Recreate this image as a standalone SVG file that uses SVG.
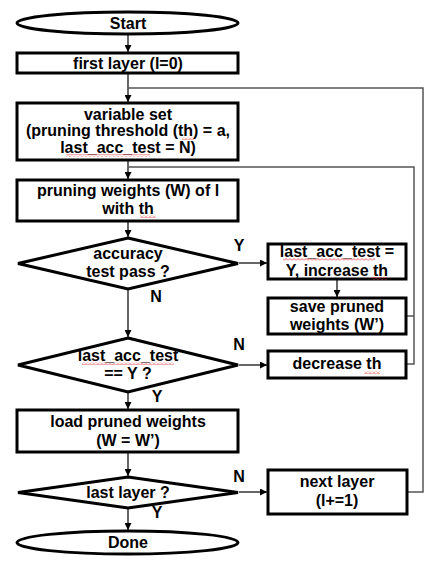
<svg xmlns="http://www.w3.org/2000/svg" width="436" height="564" viewBox="0 0 436 564">
<style>
.n{fill:#fff;stroke:#000;stroke-width:3}
.t{font-family:"Liberation Sans",Arial,sans-serif;font-weight:bold;font-size:16px;fill:#000;text-anchor:middle}
.c{fill:none;stroke:#000;stroke-width:1.2}
.g{fill:none;stroke:#555;stroke-width:1.5}
.sq{fill:url(#sq)}
</style>
<defs>
<marker id="a" viewBox="0 0 10 10" refX="10" refY="5" markerWidth="7" markerHeight="7" orient="auto" markerUnits="userSpaceOnUse">
<path d="M0,0 L10,5 L0,10 z" fill="#000"/>
</marker>
<pattern id="sq" width="4" height="3" patternUnits="userSpaceOnUse">
<path d="M0,2.5 L2,0.5 L4,2.5" fill="none" stroke="#e03030" stroke-width="0.8"/>
</pattern>
</defs>
<rect width="436" height="564" fill="#fff"/>
<g id="connectors">
<path class="c" d="M128,35 V52" marker-end="url(#a)"/>
<path class="c" d="M128,74 V102" marker-end="url(#a)"/>
<path class="c" d="M128,161 V179" marker-end="url(#a)"/>
<path class="c" d="M128,222 V237" marker-end="url(#a)"/>
<path class="c" d="M128,290 V337" marker-end="url(#a)"/>
<path class="c" d="M128,393 V409" marker-end="url(#a)"/>
<path class="c" d="M128,453 V476" marker-end="url(#a)"/>
<path class="c" d="M128,509 V530" marker-end="url(#a)"/>
<path class="c" d="M239,263 H267" marker-end="url(#a)"/>
<path class="c" d="M337,280 V297" marker-end="url(#a)"/>
<path class="c" d="M239,365 H267" marker-end="url(#a)"/>
<path class="c" d="M239,492 H267" marker-end="url(#a)"/>
<path class="g" d="M407,316 H414 M407,364 H414 V167 H128"/>
<path class="g" d="M408,492 H423 V88 H128"/>
</g>
<g id="start">
<ellipse class="n" cx="127.5" cy="23" rx="110.5" ry="11"/>
<text class="t" x="128" y="29">Start</text>
</g>
<g id="first-layer">
<rect class="n" x="17" y="53" width="221" height="20"/>
<text class="t" x="128" y="69">first layer (l=0)</text>
</g>
<g id="variable-set">
<rect class="n" x="17" y="103" width="221" height="57"/>
<text class="t" x="128" y="120">variable set</text>
<text class="t" x="128" y="136">(pruning threshold (th) = a,</text>
<text class="t" x="128" y="153">last_acc_test = N)</text>
<rect class="sq" x="182" y="137" width="12" height="3"/>
<rect class="sq" x="66" y="154" width="84" height="3"/>
</g>
<g id="pruning">
<rect class="n" x="17" y="180" width="221" height="41"/>
<text class="t" x="128" y="196">pruning weights (W) of l</text>
<text class="t" x="128" y="214">with th</text>
<rect class="sq" x="140" y="215" width="16" height="3"/>
</g>
<g id="accuracy">
<polygon class="n" points="128,238 238,263.5 128,289 18,263.5"/>
<text class="t" x="128" y="259">accuracy</text>
<text class="t" x="128" y="277">test pass ?</text>
</g>
<g id="increase">
<rect class="n" x="268" y="244" width="138" height="35"/>
<text class="t" x="337" y="257">last_acc_test =</text>
<text class="t" x="337" y="276">Y, increase th</text>
<rect class="sq" x="283" y="258" width="92" height="3"/>
<rect class="sq" x="371" y="277" width="16" height="3"/>
</g>
<g id="save">
<rect class="n" x="268" y="298" width="138" height="36"/>
<text class="t" x="337" y="312">save pruned</text>
<text class="t" x="337" y="330">weights (W’)</text>
</g>
<g id="last-acc">
<polygon class="n" points="128,338 238,365 128,392 18,365"/>
<text class="t" x="128" y="361">last_acc_test</text>
<text class="t" x="128" y="379">== Y ?</text>
<rect class="sq" x="82" y="362" width="92" height="3"/>
</g>
<g id="decrease">
<rect class="n" x="268" y="351" width="138" height="27"/>
<text class="t" x="337" y="369">decrease th</text>
<rect class="sq" x="364" y="371" width="16" height="3"/>
</g>
<g id="load">
<rect class="n" x="17" y="410" width="221" height="42"/>
<text class="t" x="128" y="427">load pruned weights</text>
<text class="t" x="128" y="446">(W = W’)</text>
</g>
<g id="last-layer">
<polygon class="n" points="128,477 238,492.5 128,508 18,492.5"/>
<text class="t" x="128" y="498">last layer ?</text>
</g>
<g id="next-layer">
<rect class="n" x="268" y="470" width="139" height="44"/>
<text class="t" x="337" y="487">next layer</text>
<text class="t" x="337" y="506">(l+=1)</text>
</g>
<g id="done">
<ellipse class="n" cx="127.5" cy="542.5" rx="110.5" ry="11.5"/>
<text class="t" x="128" y="548">Done</text>
</g>
<g id="labels">
<text class="t" x="239" y="251">Y</text>
<text class="t" x="156" y="302">N</text>
<text class="t" x="239" y="350">N</text>
<text class="t" x="157" y="402">Y</text>
<text class="t" x="239" y="482">N</text>
<text class="t" x="157" y="518">Y</text>
</g>
</svg>
